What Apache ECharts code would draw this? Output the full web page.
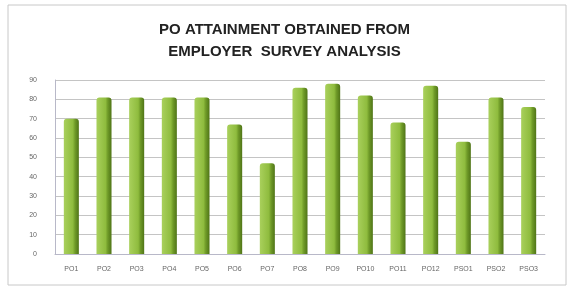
<!DOCTYPE html>
<html lang="en">
<head>
    <meta charset="UTF-8">
    <title>PO Attainment</title>
    <style>
        body { margin: 0; background: #fff; }
    </style>
</head>
<body>
<script src="https://cdn.jsdelivr.net/npm/echarts@6/dist/echarts.min.js"></script>
<div id="main" style="width:569px;height:288px;"></div>

<script type="text/javascript">
    var categories = ['PO1', 'PO2', 'PO3', 'PO4', 'PO5', 'PO6', 'PO7', 'PO8', 'PO9', 'PO10', 'PO11', 'PO12', 'PSO1', 'PSO2', 'PSO3'];
    var attainment = [70, 81, 81, 81, 81, 67, 47, 86, 88, 82, 68, 87, 58, 81, 76];
    var yMin = 0, yMax = 90, yStep = 10;

    var myChart = echarts.init(document.getElementById('main'));

    var barColor = new echarts.graphic.LinearGradient(0, 0, 1, 0, [
        {offset: 0, color: '#a9d05c'},
        {offset: 0.6, color: '#8fbc3e'},
        {offset: 0.75, color: '#6f9a28'},
        {offset: 1, color: '#4f7417'}
    ]);

    var option = {
        backgroundColor: '#fff',
        title: {
            text: 'PO ATTAINMENT OBTAINED FROM\nEMPLOYER  SURVEY ANALYSIS',
            left: 'center',
            top: 14,
            textStyle: {
                fontFamily: 'Liberation Sans Narrow, Arial',
                fontSize: 15,
                fontWeight: 'bold',
                color: '#222',
                lineHeight: 22
            }
        },
        graphic: [{
            type: 'rect',
            shape: {x: 8, y: 5, width: 558, height: 280},
            style: {fill: 'none', stroke: '#c8c8c8', lineWidth: 1}
        }],
        grid: {left: 55, right: 24, top: 80, bottom: 34},
        xAxis: {
            type: 'category',
            data: categories,
            axisTick: {show: false},
            axisLine: {lineStyle: {color: '#b8b8c8'}},
            axisLabel: {fontSize: 7, color: '#666', margin: 12}
        },
        yAxis: {
            type: 'value',
            min: yMin,
            max: yMax,
            interval: yStep,
            axisLine: {show: true, lineStyle: {color: '#b8b8c8'}},
            axisTick: {show: false},
            axisLabel: {fontSize: 7, color: '#666', margin: 18},
            splitLine: {lineStyle: {color: '#c4c4c4'}}
        },
        series: [{
            type: 'bar',
            data: attainment,
            barWidth: '46%',
            itemStyle: {
                color: barColor,
                borderRadius: [3, 3, 0, 0]
            }
        }]
    };
    myChart.setOption(option);
</script>
</body>
</html>
